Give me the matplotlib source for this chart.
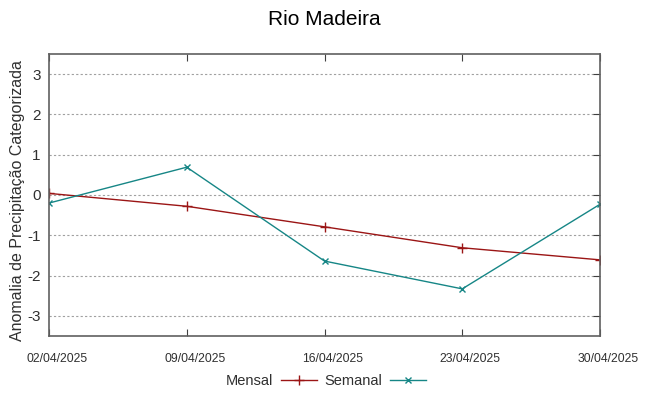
import datetime as dt
import matplotlib
matplotlib.use("Agg")
import matplotlib.pyplot as plt
import matplotlib.dates as mdates
import matplotlib.transforms as mtransforms

plt.rcParams['font.family'] = ['Liberation Sans', 'DejaVu Sans']
plt.rcParams['axes.unicode_minus'] = False

# dados
datas = ["02/04/2025", "09/04/2025", "16/04/2025", "23/04/2025", "30/04/2025"]
mensal = [0.04, -0.28, -0.79, -1.31, -1.61]
semanal = [-0.2, 0.69, -1.64, -2.33, -0.23]

x = [dt.datetime.strptime(d, "%d/%m/%Y") for d in datas]

fig = plt.figure(figsize=(6.48, 3.96), dpi=100)
ax = fig.add_axes([49/648, 1 - 336/396, 551/648, 282/396])

ax.plot(x, mensal, color='#9b1515', lw=1.0, marker='+', ms=7, mew=1.0,
        label='Mensal')
ax.plot(x, semanal, color='#168686', lw=1.0, marker='x', ms=5, mew=1.0,
        label='Semanal')

ax.set_xlim(x[0], x[-1])
ax.set_ylim(-3.5, 3.5)
ax.set_xticks(x)
ax.xaxis.set_major_formatter(mdates.DateFormatter("%d/%m/%Y"))
ax.set_yticks([-3, -2, -1, 0, 1, 2, 3])
ax.grid(axis='y', color='#a0a0a0', ls=(0, (2, 2)), lw=0.8)

for s in ax.spines.values():
    s.set_color('#606060')
    s.set_linewidth(1.2)

ax.tick_params(axis='x', direction='in', top=True, length=5, color='#404040',
               labelsize=8.8, labelcolor='#303030', pad=12)
ax.tick_params(axis='y', direction='in', right=True, left=False, length=5,
               color='#404040', labelsize=11, labelcolor='#303030', pad=6)

# rotulos das datas levemente deslocados para a direita
desloc = mtransforms.ScaledTranslation(8/100, 0, fig.dpi_scale_trans)
for lbl in ax.get_xticklabels():
    lbl.set_transform(lbl.get_transform() + desloc)

ax.set_ylabel('Anomalia de Precipitação Categorizada', fontsize=11.5,
              color='#303030')
ax.yaxis.set_label_coords(-24/551, 0.482)
fig.suptitle('Rio Madeira', fontsize=15, y=0.975)

leg = fig.legend(loc='center', bbox_to_anchor=(326/648, 1 - 381/396), ncol=2,
                 frameon=False, markerfirst=False, fontsize=10.5,
                 handlelength=2.5, columnspacing=0.5, handletextpad=0.5,
                 borderpad=0, borderaxespad=0)
for t in leg.get_texts():
    t.set_color('#303030')

fig.savefig('out.png', dpi=100)
